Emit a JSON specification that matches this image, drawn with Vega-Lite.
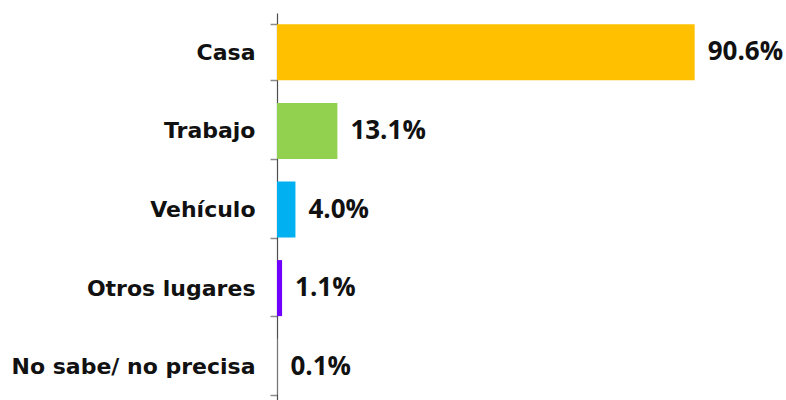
{
  "$schema": "https://vega.github.io/schema/vega-lite/v6.json",
  "autosize": "none",
  "width": 461,
  "height": 393,
  "padding": {"top": 13, "left": 277, "right": 48, "bottom": 0},
  "background": "white",
  "config": {"view": {"stroke": null}},
  "data": {
    "values": [
      {"lugar": "Casa", "pct": 90.6, "label": "90.6%", "color": "#FFC000"},
      {"lugar": "Trabajo", "pct": 13.1, "label": "13.1%", "color": "#92D050"},
      {"lugar": "Vehículo", "pct": 4.0, "label": "4.0%", "color": "#00B0F0"},
      {"lugar": "Otros lugares", "pct": 1.1, "label": "1.1%", "color": "#7000FF"},
      {"lugar": "No sabe/ no precisa", "pct": 0.1, "label": "0.1%", "color": "#A5A5A5"}
    ]
  },
  "encoding": {
    "y": {
      "field": "lugar",
      "type": "nominal",
      "sort": null,
      "scale": {"paddingInner": 0.287, "paddingOuter": 0.1435},
      "axis": {
        "title": null,
        "tickBand": "extent",
        "tickSize": 7,
        "tickColor": "#8c8c8c",
        "tickWidth": 1.5,
        "domainColor": "#4d4d4d",
        "domainWidth": 1.2,
        "labelFont": "DejaVu Sans",
        "labelFontWeight": "bold",
        "labelFontSize": 22,
        "labelColor": "#111111",
        "labelPadding": 15,
        "labelLimit": 300
      }
    },
    "x": {
      "field": "pct",
      "type": "quantitative",
      "scale": {"domain": [0, 100]},
      "axis": null
    }
  },
  "layer": [
    {
      "mark": {"type": "bar"},
      "encoding": {
        "color": {"field": "color", "type": "nominal", "scale": null, "legend": null}
      }
    },
    {
      "mark": {
        "type": "text",
        "align": "left",
        "baseline": "middle",
        "dx": 13,
        "font": "Open Sans",
        "fontWeight": "bold",
        "fontSize": 26,
        "color": "#111111"
      },
      "encoding": {"text": {"field": "label"}}
    }
  ]
}
